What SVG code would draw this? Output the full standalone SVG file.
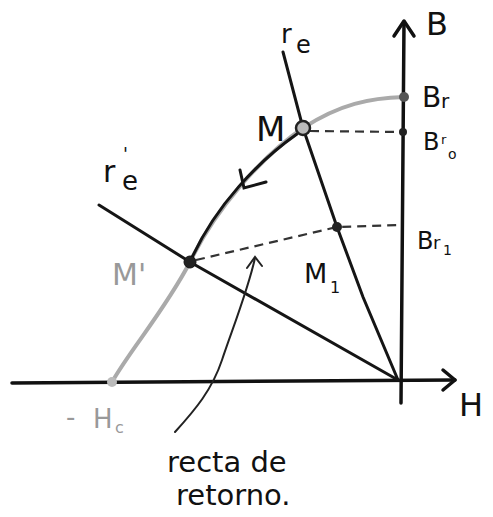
<svg xmlns="http://www.w3.org/2000/svg" width="493" height="517" viewBox="0 0 493 517">
<style>
.ax{fill:none;stroke:#111;stroke-width:3.5;stroke-linecap:round;stroke-linejoin:round}
.ln{fill:none;stroke:#151515;stroke-width:3;stroke-linecap:round}
.gc{fill:none;stroke:#aaa;stroke-width:4;stroke-linecap:round}
.ds{fill:none;stroke:#333;stroke-width:2.2;stroke-dasharray:9 6}
.t{font-family:"DejaVu Sans","Liberation Sans",sans-serif;fill:#111}
.g{fill:#999}
</style>
<rect width="493" height="517" fill="#fff"/>
<g id="axes">
<path class="ax" d="M12,383 L455,380"/>
<path class="ax" d="M443,370 L455,380 L443,390"/>
<path class="ax" d="M401,403 L404,22"/>
<path class="ax" d="M394,36 L404,21 L414,36"/>
</g>
<g id="connectors">
<path class="ln" d="M283,52 L303,128 L337,227 L363,297 L398,380"/>
<path class="ln" d="M99,205 L190,262 L398,380"/>
<path class="gc" d="M404,97 C370,98 340,104 303,128 C260,158 215,210 190,262"/>
<path class="gc" stroke="#c4c4c4" d="M190,262 C165,310 130,350 112,382"/>
<path class="ln" d="M297,134 C260,160 215,205 190,262"/>
<path class="ln" d="M240,170 L244,188 L266,182"/>
<path class="ds" d="M310,131 L403,132"/>
<path class="ds" d="M196,260 L337,227 L400,225"/>
<path fill="none" stroke="#222" stroke-width="2" stroke-linecap="round" d="M175,432 C195,410 212,390 222,360 C232,330 248,290 255,258"/>
<path fill="none" stroke="#222" stroke-width="2" stroke-linecap="round" d="M247,268 L255,257 L262,266"/>
</g>
<g id="Br"><circle cx="404" cy="97" r="5" fill="#555"/><text class="t" x="422" y="107" font-size="28">B</text><text class="t" x="441" y="108" font-size="20">r</text></g>
<g id="Br0"><circle cx="403" cy="132" r="4" fill="#222"/><text class="t" x="423" y="150" font-size="24" fill="#333">B</text><text class="t" x="441" y="144" font-size="13">r</text><text class="t" x="448" y="159" font-size="14">o</text></g>
<g id="Br1"><text class="t" x="417" y="249" font-size="24" fill="#333">B</text><text class="t" x="433" y="249" font-size="18">r</text><text class="t" x="443" y="255" font-size="14">1</text></g>
<g id="M"><circle cx="303" cy="128" r="7" fill="#bbb" stroke="#222" stroke-width="2.5"/><text class="t" x="256" y="141" font-size="34">M</text></g>
<g id="M1"><circle cx="337" cy="227" r="5" fill="#222"/><text class="t" x="304" y="283" font-size="27" fill="#555">M</text><text class="t" x="330" y="293" font-size="16" fill="#555">1</text></g>
<g id="Mp"><circle cx="190" cy="262" r="6" fill="#222" stroke="#111" stroke-width="1"/><text class="t g" x="112" y="285" font-size="30">M'</text></g>
<g id="Hc"><circle cx="112" cy="382" r="5" fill="#bbb"/><text class="t g" x="66" y="426" font-size="26">-</text><text class="t g" x="93" y="428" font-size="26">H</text><text class="t g" x="115" y="433" font-size="16">c</text></g>
<g id="re"><text class="t" x="281" y="43" font-size="26">r</text><text class="t" x="296" y="53" font-size="24">e</text></g>
<g id="rep"><text class="t" x="103" y="182" font-size="30">r</text><text class="t" x="123" y="160" font-size="18">'</text><text class="t" x="122" y="190" font-size="26">e</text></g>
<text class="t" x="426" y="35" font-size="32">B</text>
<text class="t" x="459" y="416" font-size="32">H</text>
<text class="t" x="167" y="472" font-size="29">recta de</text>
<text class="t" x="176" y="505" font-size="29">retorno.</text>
</svg>
